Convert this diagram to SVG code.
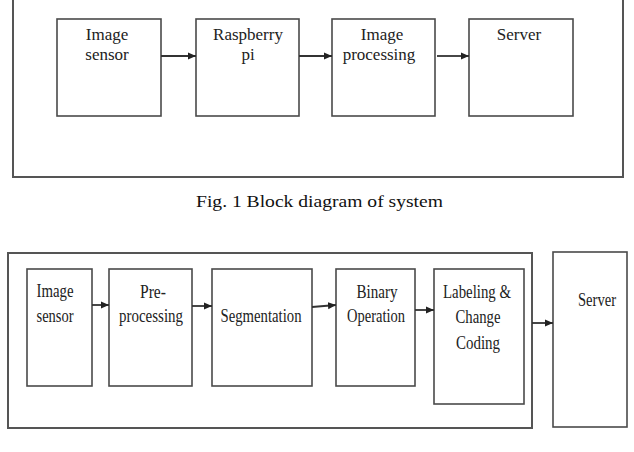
<svg xmlns="http://www.w3.org/2000/svg" width="634" height="452" viewBox="0 0 634 452">
<style>
.frame{fill:none;stroke:#555;stroke-width:2}
.box{fill:#fff;stroke:#4a4a4a;stroke-width:1.6}
text{font-family:"Liberation Serif","Times New Roman",Times,serif;fill:#222}
.t1{font-size:17px;text-anchor:middle}
.t2{font-size:18px;text-anchor:middle}
.cap{font-size:17px;fill:#111}
.conn{stroke:#333;stroke-width:1.8;fill:none;marker-end:url(#ah)}
</style>
<defs>
<marker id="ah" markerWidth="9" markerHeight="9" refX="8" refY="4.5" orient="auto" markerUnits="userSpaceOnUse">
<path d="M0,1 L8,4.5 L0,8 Z" fill="#222"/>
</marker>
</defs>
<rect width="634" height="452" fill="#fff"/>

<!-- Figure 1 -->
<g id="fig1-frame"><rect class="frame" x="13" y="-6" width="610" height="183"/></g>
<g id="n-image-sensor-1">
<rect class="box" x="57" y="19" width="104" height="97"/>
<text class="t1" x="107" y="40">Image</text>
<text class="t1" x="107" y="60">sensor</text>
</g>
<g id="n-raspberry">
<rect class="box" x="196" y="19" width="103" height="97"/>
<text class="t1" x="248" y="40">Raspberry</text>
<text class="t1" x="248" y="60">pi</text>
</g>
<g id="n-image-processing">
<rect class="box" x="332" y="19" width="103" height="97"/>
<text class="t1" x="382" y="40">Image</text>
<text class="t1" x="379" y="60">processing</text>
</g>
<g id="n-server-1">
<rect class="box" x="469" y="19" width="104" height="97"/>
<text class="t1" x="519" y="40">Server</text>
</g>
<g id="connectors-1">
<line class="conn" x1="161" y1="56" x2="196" y2="56"/>
<line class="conn" x1="299" y1="56" x2="332" y2="56"/>
<line class="conn" x1="437" y1="56" x2="469" y2="56"/>
</g>
<text class="cap" x="196" y="207" textLength="247" lengthAdjust="spacingAndGlyphs">Fig. 1 Block diagram of system</text>

<!-- Figure 2 -->
<g id="fig2-frame"><rect class="frame" x="8" y="253" width="524" height="175"/></g>
<g id="n-image-sensor-2">
<rect class="box" x="27" y="269" width="65" height="117"/>
<text class="t2" x="55" y="297" textLength="37" lengthAdjust="spacingAndGlyphs">Image</text>
<text class="t2" x="55" y="322" textLength="37" lengthAdjust="spacingAndGlyphs">sensor</text>
</g>
<g id="n-preprocessing">
<rect class="box" x="109" y="269" width="83" height="117"/>
<text class="t2" x="153" y="298" textLength="26" lengthAdjust="spacingAndGlyphs">Pre-</text>
<text class="t2" x="151" y="322" textLength="64" lengthAdjust="spacingAndGlyphs">processing</text>
</g>
<g id="n-segmentation">
<rect class="box" x="212" y="269" width="100" height="117"/>
<text class="t2" x="261" y="322" textLength="81" lengthAdjust="spacingAndGlyphs">Segmentation</text>
</g>
<g id="n-binary">
<rect class="box" x="336" y="269" width="79" height="117"/>
<text class="t2" x="377" y="298" textLength="41" lengthAdjust="spacingAndGlyphs">Binary</text>
<text class="t2" x="376" y="322" textLength="58" lengthAdjust="spacingAndGlyphs">Operation</text>
</g>
<g id="n-labeling">
<rect class="box" x="434" y="269" width="90" height="135"/>
<text class="t2" x="477" y="298" textLength="68" lengthAdjust="spacingAndGlyphs">Labeling &amp;</text>
<text class="t2" x="478" y="323" textLength="45" lengthAdjust="spacingAndGlyphs">Change</text>
<text class="t2" x="478" y="349" textLength="44" lengthAdjust="spacingAndGlyphs">Coding</text>
</g>
<g id="n-server-2">
<rect class="box" x="553" y="252" width="74" height="175"/>
<text class="t2" x="597" y="306" textLength="38" lengthAdjust="spacingAndGlyphs">Server</text>
</g>
<g id="connectors-2">
<line class="conn" x1="92" y1="305" x2="109" y2="305"/>
<line class="conn" x1="192" y1="306" x2="212" y2="306"/>
<line class="conn" x1="312" y1="307" x2="336" y2="305"/>
<line class="conn" x1="415" y1="310" x2="434" y2="310"/>
<line class="conn" x1="532" y1="323" x2="553" y2="323"/>
</g>
</svg>
